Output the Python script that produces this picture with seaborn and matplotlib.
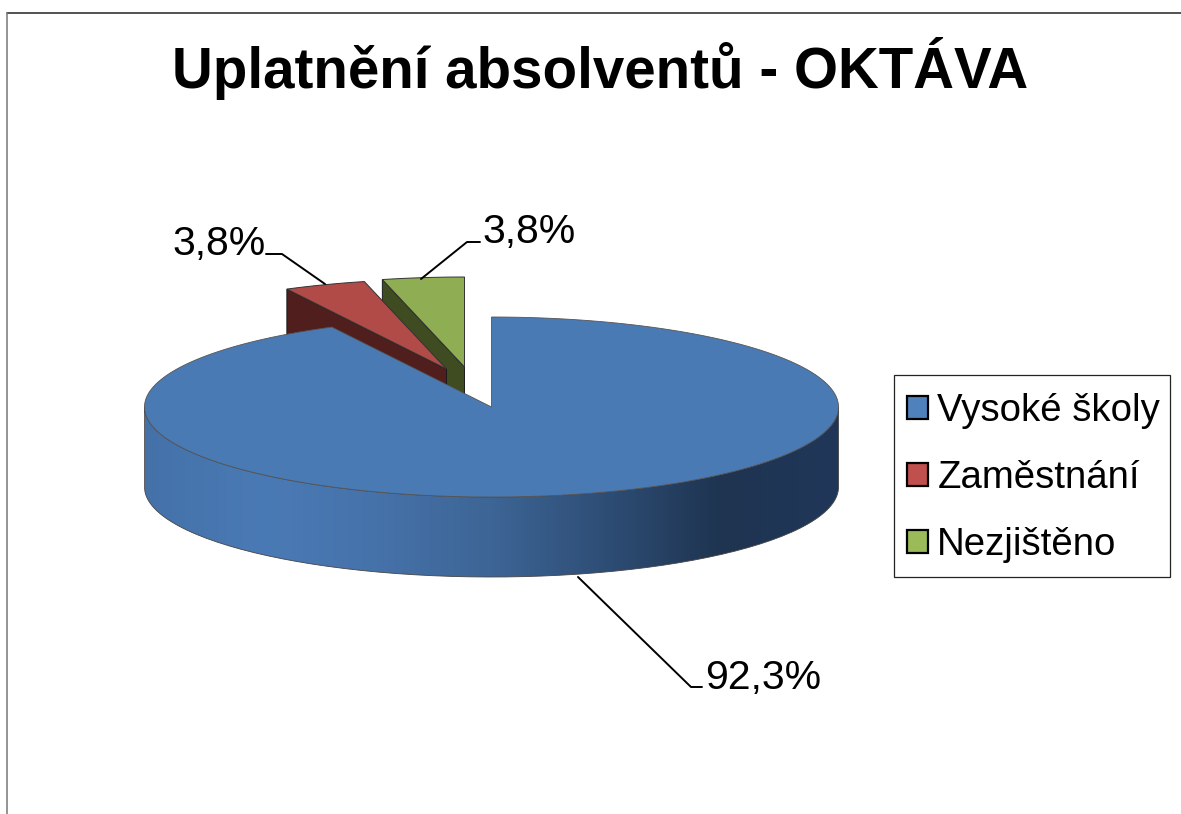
import numpy as np
import seaborn as sns
import matplotlib.pyplot as plt
from matplotlib.patches import Patch, Polygon, PathPatch, Rectangle
from matplotlib.path import Path

# --- DATA ---
TITLE = "Uplatnění absolventů - OKTÁVA"
categories = ["Vysoké školy", "Zaměstnání", "Nezjištěno"]
shares = [92.3, 3.8, 3.8]

# --- STYLE ---
legend_colors = ["#4f81bd", "#c0504d", "#9bbb59"]
top_colors = ["#4a7ab3", "#b04b48", "#8fae54"]
wall_colors = ["#4a7ab3", "#4f1e1d", "#3f4c21"]
CX, CY, RX, RY, DEPTH = 491.5, 407, 347, 90, 80
offsets = [(0, 0), (-45, -38), (-27, -40)]

sns.set_theme(style="white")
plt.rcParams["font.family"] = ["Liberation Sans", "DejaVu Sans"]

fig = plt.figure(figsize=(11.81, 8.14), dpi=100)
ax = fig.add_axes([0, 0, 1, 1])
ax.set_xlim(0, 1181)
ax.set_ylim(814, 0)
ax.axis("off")

# chart frame, cut off at the right and bottom of the picture
ax.plot([7, 1181], [13, 13], color="#222222", lw=1.1, zorder=1)
ax.plot([7, 7], [13, 814], color="#777777", lw=1.1, zorder=1)


def rim(angles, dx=0, dy=0, down=0):
    # angles in degrees, clockwise from 12 o'clock
    rad = np.deg2rad(angles)
    return np.column_stack([CX + dx + RX * np.sin(rad), CY + dy + down - RY * np.cos(rad)])


# slice angles come from the shares, the big slice starts at 12 o'clock
sweep = np.array(shares) / sum(shares) * 360
starts = np.concatenate([[0], np.cumsum(sweep)[:-1]])

# exploded small slices, back to front: green, red, then the big one
for i in [2, 1]:
    dx, dy = offsets[i]
    tip = np.array([CX + dx, CY + dy])
    a0, a1 = starts[i], starts[i] + sweep[i]
    edge = rim(np.array([a0]), dx, dy)[0]
    wall = [edge, tip, tip + [0, DEPTH], edge + [0, DEPTH]]
    ax.add_patch(Polygon(wall, closed=True, fc=wall_colors[i], ec="#1a1a1a", lw=0.7, zorder=2 + (2 - i)))
    arc = rim(np.linspace(a0, a1, 30), dx, dy)
    ax.add_patch(Polygon(np.vstack([tip, arc]), closed=True, fc=top_colors[i], ec="#333333", lw=0.7, zorder=2 + (2 - i)))

# front wall of the big slice with a light-to-dark gradient
front = np.linspace(90, 270, 120)
wall_pts = np.vstack([rim(front), rim(front[::-1], down=DEPTH)])
wall_patch = PathPatch(Path(np.vstack([wall_pts, wall_pts[0]])), fc="none", ec="#444444", lw=0.6, zorder=6)
ax.add_patch(wall_patch)
cmap = sns.blend_palette(["#20375a", "#1e3450", "#2e4d75", "#3d6595", "#4672aa", "#4a7ab5", "#4471a8"], as_cmap=True)
grad = ax.imshow(np.linspace(1, 0, 256).reshape(1, -1), cmap=cmap, vmin=0, vmax=1, aspect="auto",
                 extent=[CX - RX, CX + RX, CY + RY + DEPTH, CY - RY], zorder=5)
grad.set_clip_path(wall_patch)
ax.set_xlim(0, 1181)
ax.set_ylim(814, 0)

# top of the big slice
arc = rim(np.linspace(starts[0], sweep[0], 300))
ax.add_patch(Polygon(np.vstack([[CX, CY], arc]), closed=True, fc=top_colors[0], ec="#555555", lw=0.6, zorder=7))

# data labels with leader lines
labels = [f"{s:.1f}%".replace(".", ",") for s in shares]
label_pos = [(705, 678), (172, 244), (482, 232)]
leaders = [
    [(578, 577), (691, 687), (702, 687)],
    [(325, 284), (282, 254), (266, 254)],
    [(421, 279), (467, 242), (480, 242)],
]
for lab, pos, line in zip(labels, label_pos, leaders):
    xs, ys = zip(*line)
    ax.plot(xs, ys, color="black", lw=1.4, zorder=8)
    ax.text(pos[0], pos[1], lab, fontsize=29.5, color="black", ha="left", va="center", zorder=9)

ax.text(600, 69, TITLE, fontsize=40.7, fontweight="bold", color="black", ha="center", va="center")

# legend box
ax.add_patch(Rectangle((894, 375), 276, 202, fc="white", ec="#222222", lw=0.9, zorder=9))
handles = [Patch(facecolor=c, edgecolor="black", linewidth=1.6) for c in legend_colors]
leg = ax.legend(
    handles, categories,
    loc="upper left", bbox_to_anchor=(907, 393), bbox_transform=ax.transData,
    fontsize=27.6, frameon=False, labelcolor="black",
    handlelength=0.55, handleheight=0.55, handletextpad=0.24,
    labelspacing=0.81, borderpad=0, borderaxespad=0,
)
leg.set_zorder(10)

plt.savefig("out.png", dpi=100)
